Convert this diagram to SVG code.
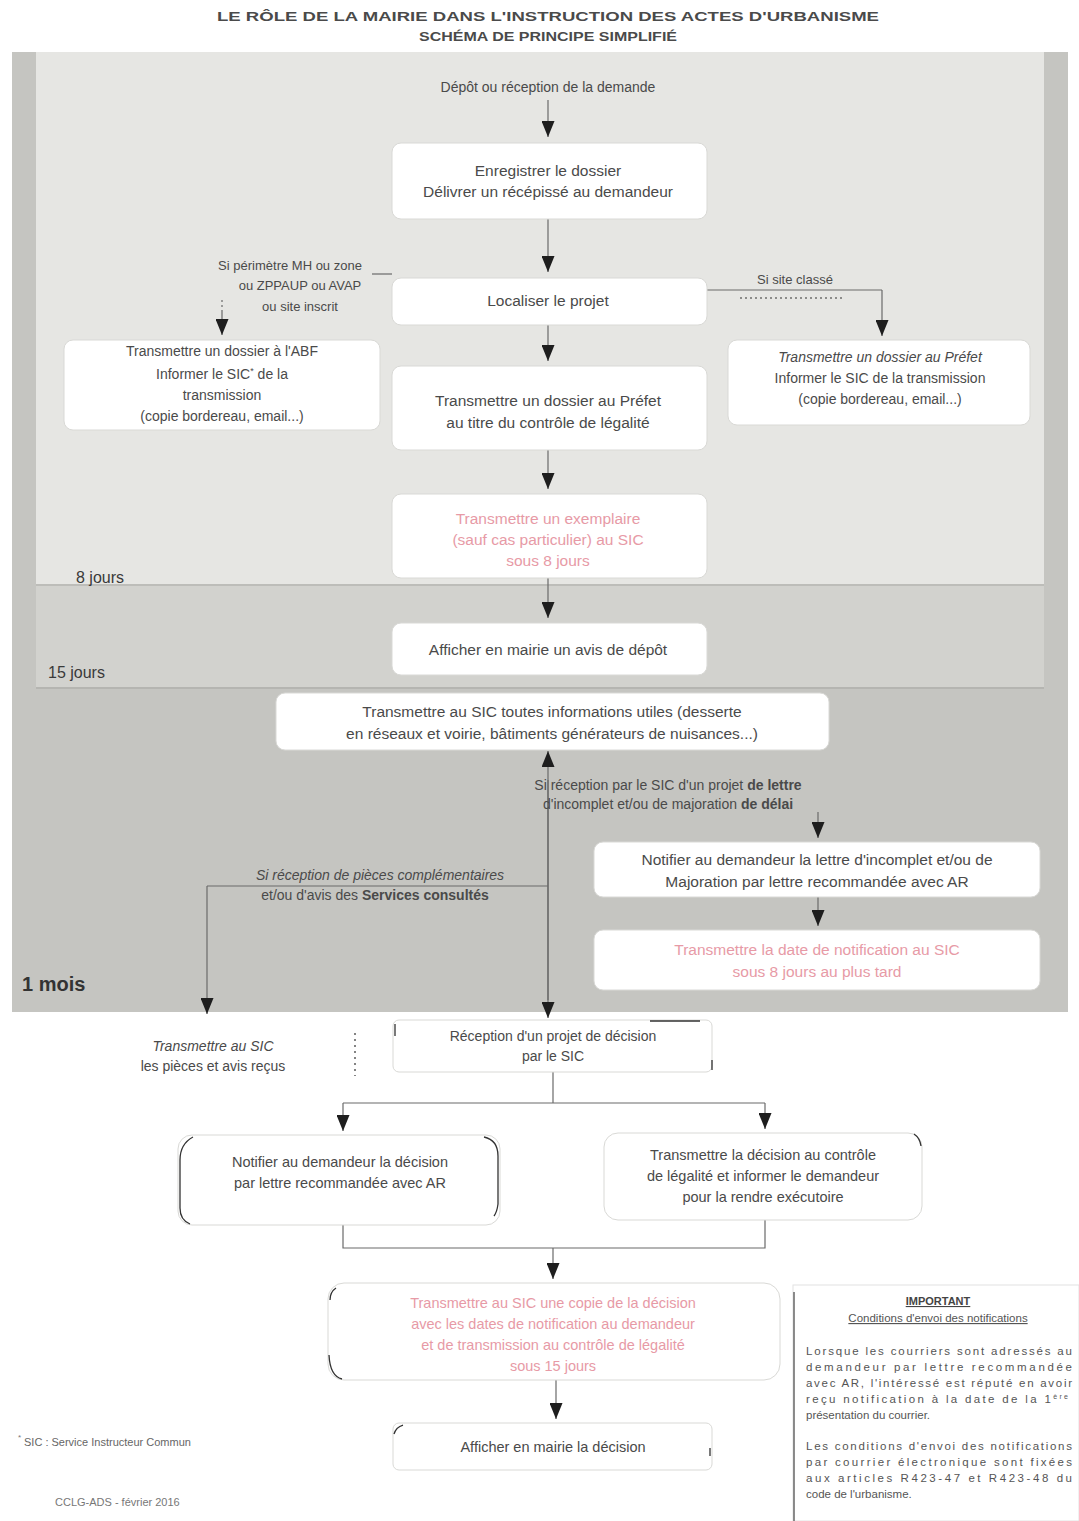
<svg xmlns="http://www.w3.org/2000/svg" width="1079" height="1521" viewBox="0 0 1079 1521">
<defs>
<marker id="ah" markerUnits="userSpaceOnUse" markerWidth="16" markerHeight="13" refX="16" refY="6.5" orient="auto">
<path d="M0,0 L16,6.5 L0,13 z" fill="#1e1e1e"/>
</marker>
<style>
text{font-family:"Liberation Sans",Arial,sans-serif;fill:#4a4a4a;font-size:15.5px}
.c{text-anchor:middle}
.pk{fill:#e79aa6}
.b{font-weight:bold}
.box{fill:#ffffff;stroke:#d9d9d6;stroke-width:1}
.ln{fill:none;stroke:#6a6a6a;stroke-width:1.2}
.ar{fill:none;stroke:#6a6a6a;stroke-width:1.2;marker-end:url(#ah)}
.dk{fill:none;stroke:#333;stroke-width:1.3}
.lbl{font-size:16px;fill:#3a3a3a}
.imp{font-size:11.5px;fill:#555}
</style>
</defs>
<rect width="1079" height="1521" fill="#ffffff"/>

<g id="title">
<text class="c b" x="548" y="21" textLength="662" lengthAdjust="spacingAndGlyphs" style="font-size:13px;fill:#4a4a4a">LE RÔLE DE LA MAIRIE DANS L'INSTRUCTION DES ACTES D'URBANISME</text>
<text class="c b" x="548" y="41" textLength="258" lengthAdjust="spacingAndGlyphs" style="font-size:13px;fill:#4a4a4a">SCHÉMA DE PRINCIPE SIMPLIFIÉ</text>
</g>

<g id="zones">
<rect x="12" y="52" width="1056" height="960" fill="#c5c5c1"/>
<rect x="36" y="52" width="1008" height="636" fill="#d2d2ce"/>
<rect x="36" y="52" width="1008" height="533" fill="#e6e6e3"/>
<line x1="36" y1="585" x2="1044" y2="585" stroke="#bdbdb9" stroke-width="2"/>
<line x1="36" y1="688" x2="1044" y2="688" stroke="#b5b5b1" stroke-width="2"/>
<text id="z8" x="76" y="583" class="lbl">8 jours</text>
<text id="z15" x="48" y="678" class="lbl">15 jours</text>
<text id="z1m" x="22" y="991" class="b" style="font-size:20px;fill:#333">1 mois</text>
</g>

<g id="connectors">
<path class="ar" d="M548,100 V137"/>
<path class="ar" d="M548,219 V272"/>
<path class="ar" d="M548,325 V361"/>
<path class="ar" d="M548,450 V489"/>
<path class="ar" d="M548,578 V618"/>
<path class="ln" d="M392,274 H372"/>
<path class="ln" d="M222,300 V312" stroke-dasharray="2,3"/>
<path class="ar" d="M222,312 V335"/>
<path class="ln" d="M707,290 H882"/>
<path class="ln" d="M740,298 H845" stroke-dasharray="2,3" style="stroke:#333"/>
<path class="ar" d="M882,290 V336"/>
<path class="ar" d="M548,1000 V751"/>
<path class="ar" d="M548,780 V1018"/>
<path class="ar" d="M818,812 V838"/>
<path class="ar" d="M818,897 V926"/>
<path class="ln" d="M548,886 H207"/>
<path class="ar" d="M207,886 V1014"/>
<path class="ln" d="M355,1033 V1076" stroke-dasharray="2,4" style="stroke:#333"/>
<path class="ln" d="M553,1072 V1103"/>
<path class="ln" d="M343,1103 H765"/>
<path class="ar" d="M343,1103 V1131"/>
<path class="ar" d="M765,1103 V1129"/>
<path class="ln" d="M343,1225 V1248 H765 V1220"/>
<path class="ar" d="M553,1248 V1279"/>
<path class="ar" d="M556,1380 V1419"/>
</g>

<g id="n-depot"><text class="c" x="548" y="92" style="font-size:14px">Dépôt ou réception de la demande</text></g>

<g id="n-enregistrer">
<rect class="box" x="392" y="143" width="315" height="76" rx="9"/>
<text class="c" x="548" y="176">Enregistrer le dossier</text>
<text class="c" x="548" y="197">Délivrer un récépissé au demandeur</text>
</g>

<g id="n-localiser">
<rect class="box" x="392" y="278" width="315" height="47" rx="9"/>
<text class="c" x="548" y="306">Localiser le projet</text>
</g>

<g id="l-perimetre">
<text class="c" x="290" y="270" style="font-size:13px">Si périmètre MH ou zone</text>
<text class="c" x="300" y="290" style="font-size:13px">ou ZPPAUP ou AVAP</text>
<text class="c" x="300" y="311" style="font-size:13px">ou site inscrit</text>
</g>

<g id="l-classe"><text class="c" x="795" y="284" style="font-size:13px">Si site classé</text></g>

<g id="n-abf">
<rect class="box" x="64" y="340" width="316" height="90" rx="9"/>
<text class="c" x="222" y="356" style="font-size:14px">Transmettre un dossier à l'ABF</text>
<text class="c" x="222" y="379" style="font-size:14px">Informer le SIC<tspan dy="-5" style="font-size:9px">*</tspan><tspan dy="5"> de la</tspan></text>
<text class="c" x="222" y="400" style="font-size:14px">transmission</text>
<text class="c" x="222" y="421" style="font-size:14px">(copie bordereau, email...)</text>
</g>

<g id="n-prefet-classe">
<rect class="box" x="728" y="340" width="302" height="85" rx="9"/>
<text class="c" x="880" y="362" style="font-size:14px;font-style:italic">Transmettre un dossier au Préfet</text>
<text class="c" x="880" y="383" style="font-size:14px">Informer le SIC de la transmission</text>
<text class="c" x="880" y="404" style="font-size:14px">(copie bordereau, email...)</text>
</g>

<g id="n-prefet">
<rect class="box" x="392" y="366" width="315" height="84" rx="9"/>
<text class="c" x="548" y="406">Transmettre un dossier au Préfet</text>
<text class="c" x="548" y="428">au titre du contrôle de légalité</text>
</g>

<g id="n-exemplaire">
<rect class="box" x="392" y="494" width="315" height="84" rx="9"/>
<text class="c pk" x="548" y="524">Transmettre un exemplaire</text>
<text class="c pk" x="548" y="545">(sauf cas particulier) au SIC</text>
<text class="c pk" x="548" y="566">sous 8 jours</text>
</g>

<g id="n-avis">
<rect class="box" x="392" y="623" width="315" height="52" rx="9"/>
<text class="c" x="548" y="655">Afficher en mairie un avis de dépôt</text>
</g>

<g id="n-infos">
<rect class="box" x="276" y="693" width="553" height="57" rx="9"/>
<text class="c" x="552" y="717">Transmettre au SIC toutes informations utiles (desserte</text>
<text class="c" x="552" y="739">en réseaux et voirie, bâtiments générateurs de nuisances...)</text>
</g>

<g id="l-incomplet">
<text class="c" x="668" y="790" style="font-size:14px">Si réception par le SIC d'un projet <tspan class="b">de lettre</tspan></text>
<text class="c" x="668" y="809" style="font-size:14px">d'incomplet et/ou de majoration <tspan class="b">de délai</tspan></text>
</g>

<g id="n-notifier-incomplet">
<rect class="box" x="594" y="842" width="446" height="55" rx="9"/>
<text class="c" x="817" y="865">Notifier au demandeur la lettre d'incomplet et/ou de</text>
<text class="c" x="817" y="887">Majoration par lettre recommandée avec AR</text>
</g>

<g id="n-date-notif">
<rect class="box" x="594" y="930" width="446" height="60" rx="9"/>
<text class="c pk" x="817" y="955">Transmettre la date de notification au SIC</text>
<text class="c pk" x="817" y="977">sous 8 jours au plus tard</text>
</g>

<g id="l-pieces">
<text class="c" x="380" y="880" style="font-size:14px;font-style:italic">Si réception de pièces complémentaires</text>
<text class="c" x="375" y="900" style="font-size:14px">et/ou d'avis des <tspan class="b">Services consultés</tspan></text>
</g>

<g id="n-pieces-recues">
<text class="c" x="213" y="1051" style="font-size:14px;font-style:italic">Transmettre au SIC</text>
<text class="c" x="213" y="1071" style="font-size:14px">les pièces et avis reçus</text>
</g>

<g id="n-reception-decision">
<rect class="box" x="393" y="1020" width="319" height="52" rx="6"/>
<path class="dk" d="M395,1024 V1036 M712,1060 V1070 M650,1021 H700"/>
<text class="c" x="553" y="1041" style="font-size:14px">Réception d'un projet de décision</text>
<text class="c" x="553" y="1061" style="font-size:14px">par le SIC</text>
</g>

<g id="n-notifier-decision">
<rect class="box" x="178" y="1135" width="322" height="90" rx="14"/>
<path class="dk" d="M193,1137 Q180,1144 180,1160 V1208 Q180,1220 190,1224 M484,1137 Q498,1140 498,1156 V1204 Q497,1212 494,1216"/>
<text class="c" x="340" y="1167" style="font-size:14.5px">Notifier au demandeur la décision</text>
<text class="c" x="340" y="1188" style="font-size:14.5px">par lettre recommandée avec AR</text>
</g>

<g id="n-controle">
<rect class="box" x="604" y="1133" width="318" height="87" rx="14"/>
<path class="dk" d="M914,1134 Q920,1138 921,1146"/>
<text class="c" x="763" y="1160" style="font-size:14.5px">Transmettre la décision au contrôle</text>
<text class="c" x="763" y="1181" style="font-size:14.5px">de légalité et informer le demandeur</text>
<text class="c" x="763" y="1202" style="font-size:14.5px">pour la rendre exécutoire</text>
</g>

<g id="n-copie">
<rect class="box" x="328" y="1283" width="452" height="97" rx="16"/>
<path class="dk" d="M336,1288 Q330,1292 330,1300 M329,1355 Q330,1376 342,1379"/>
<text class="c pk" x="553" y="1308" style="font-size:14.5px">Transmettre au SIC une copie de la décision</text>
<text class="c pk" x="553" y="1329" style="font-size:14.5px">avec les dates de notification au demandeur</text>
<text class="c pk" x="553" y="1350" style="font-size:14.5px">et de transmission au contrôle de légalité</text>
<text class="c pk" x="553" y="1371" style="font-size:14.5px">sous 15 jours</text>
</g>

<g id="n-afficher-decision">
<rect class="box" x="393" y="1423" width="319" height="47" rx="6"/>
<path class="dk" d="M394,1434 Q396,1427 403,1425 M710,1448 V1456"/>
<text class="c" x="553" y="1452" style="font-size:14.5px">Afficher en mairie la décision</text>
</g>

<g id="footnote">
<text x="18" y="1440" style="font-size:8px;fill:#777">*</text>
<text x="24" y="1446" style="font-size:11px;fill:#666">SIC : Service Instructeur Commun</text>
<text x="55" y="1506" style="font-size:11px;fill:#777">CCLG-ADS - février 2016</text>
</g>

<g id="n-important">
<rect x="793" y="1285" width="286" height="236" fill="#ffffff" stroke="#e2e2e2"/>
<line x1="794" y1="1292" x2="794" y2="1521" stroke="#666" stroke-width="1.5"/>
<text class="c b" x="938" y="1305" style="font-size:11px;fill:#444;text-decoration:underline">IMPORTANT</text>
<text class="c" x="938" y="1322" style="font-size:11.5px;fill:#555;text-decoration:underline">Conditions d'envoi des notifications</text>
<text class="imp" x="806" y="1355" textLength="266" lengthAdjust="spacing">Lorsque les courriers sont adressés au</text>
<text class="imp" x="806" y="1371" textLength="266" lengthAdjust="spacing">demandeur par lettre recommandée</text>
<text class="imp" x="806" y="1387" textLength="266" lengthAdjust="spacing">avec AR, l'intéressé est réputé en avoir</text>
<text class="imp" x="806" y="1403" textLength="262" lengthAdjust="spacing">reçu notification à la date de la 1<tspan dy="-4" style="font-size:7px">ère</tspan></text>
<text class="imp" x="806" y="1419">présentation du courrier.</text>
<text class="imp" x="806" y="1450" textLength="266" lengthAdjust="spacing">Les conditions d'envoi des notifications</text>
<text class="imp" x="806" y="1466" textLength="266" lengthAdjust="spacing">par courrier électronique sont fixées</text>
<text class="imp" x="806" y="1482" textLength="266" lengthAdjust="spacing">aux articles R423-47 et R423-48 du</text>
<text class="imp" x="806" y="1498">code de l'urbanisme.</text>
</g>
</svg>
